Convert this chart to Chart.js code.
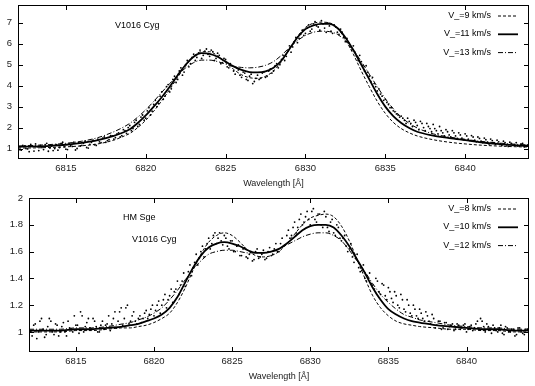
<!DOCTYPE html>
<html>
<head>
<meta charset="utf-8">
<script src="https://cdn.jsdelivr.net/npm/chart.js@4/dist/chart.umd.min.js"></script>
<style>
  html, body { margin: 0; padding: 0; background: #fff; }
  #wrap { position: relative; width: 535px; height: 386px; }
  canvas { position: absolute; left: 0; }
</style>
</head>
<body>
<div id="wrap">
  <canvas id="topChart" width="535" height="193" style="top:0"></canvas>
  <canvas id="bottomChart" width="535" height="193" style="top:193px"></canvas>
</div>
<script>
// wavelength grid of the model curves (Å)
const lam = [6812,6813,6814,6815,6816,6817,6818,
  6818.5,6819,6819.5,6820,6820.5,6821,6821.5,6822,6822.5,6823,6823.5,6824,6824.5,6825,6825.5,6826,6826.5,6827,6827.5,6828,
  6828.5,6829,6829.5,6830,6830.5,6831,6831.5,6832,6832.5,6833,6833.5,6834,6834.5,6835,6835.5,6836,6836.5,6837,
  6838,6839,6840,6841,6842,6843,6844];

// upper panel: V1016 Cyg models
const topV9  = [1.02,1.03,1.05,1.08,1.13,1.22,1.4, 1.55,1.72,2.0,2.35,2.78,3.28,3.82,4.4,4.95,5.4, 5.62,5.62,5.42,5.1,4.78,4.52,4.38,4.35,4.45,4.7, 5.15,5.75,6.35,6.78,6.98,7.03,7.0,6.75,6.2,5.5, 4.7,3.95,3.25,2.68,2.25,1.95,1.75,1.6, 1.42,1.3,1.22,1.16,1.12,1.09,1.07];
const topV11 = [1.08,1.1,1.13,1.18,1.27,1.4,1.6, 1.74,1.92,2.22,2.58,3.0,3.45,3.95,4.5,5.0,5.38, 5.55,5.52,5.38,5.15,4.92,4.75,4.65,4.63,4.68,4.85, 5.2,5.75,6.3,6.7,6.88,6.95,6.95,6.75,6.3,5.7, 5.0,4.3,3.6,3.0,2.55,2.22,1.98,1.8, 1.62,1.5,1.4,1.3,1.22,1.16,1.12];
const topV13 = [1.12,1.15,1.19,1.25,1.35,1.52,1.8, 1.98,2.2,2.5,2.85,3.25,3.68,4.1,4.5,4.85,5.1, 5.22,5.22,5.15,5.03,4.93,4.87,4.85,4.88,4.97,5.15, 5.45,5.82,6.15,6.4,6.55,6.6,6.58,6.45,6.15,5.7, 5.15,4.55,3.95,3.38,2.9,2.5,2.2,1.98, 1.7,1.55,1.44,1.34,1.27,1.21,1.17];

// lower panel models
const botV8  = [1.0,1.0,1.0,1.01,1.01,1.02,1.03, 1.03,1.04,1.05,1.07,1.1,1.14,1.22,1.33,1.46,1.58, 1.67,1.72,1.74,1.72,1.67,1.61,1.57,1.56,1.57,1.6, 1.66,1.73,1.8,1.85,1.87,1.88,1.86,1.79,1.68,1.54, 1.4,1.27,1.18,1.12,1.08,1.06,1.05,1.04, 1.03,1.02,1.02,1.01,1.01,1.0,1.0];
const botV10 = [1.01,1.01,1.01,1.02,1.02,1.03,1.04, 1.05,1.06,1.08,1.1,1.13,1.18,1.26,1.37,1.48,1.57, 1.63,1.66,1.67,1.66,1.64,1.61,1.59,1.59,1.6,1.62, 1.66,1.71,1.76,1.79,1.8,1.8,1.78,1.72,1.64,1.54, 1.44,1.33,1.24,1.17,1.13,1.1,1.08,1.07, 1.05,1.04,1.03,1.02,1.02,1.01,1.01];
const botV12 = [1.02,1.02,1.02,1.03,1.03,1.04,1.06, 1.07,1.09,1.11,1.14,1.18,1.24,1.31,1.39,1.47,1.53, 1.58,1.6,1.61,1.61,1.6,1.59,1.59,1.59,1.6,1.62, 1.65,1.68,1.71,1.73,1.74,1.74,1.72,1.68,1.61,1.53, 1.45,1.36,1.28,1.22,1.17,1.13,1.11,1.09, 1.07,1.05,1.04,1.03,1.03,1.02,1.02];

// observed spectra: set A every 0.2 Å from 6812.0, set B every 0.2 Å from 6812.1
const obsStart = 6812, obsStep = 0.2;
const topObsA = [1.05,0.92,1.12,0.98,1.2,0.88,1.08,1.15,0.95,1.25,
  1.02,0.9,1.18,1.05,1.3,0.97,1.22,1.1,0.93,1.28,
  1.15,1.35,1.02,1.3,1.18,1.45,1.28,1.55,1.38,1.62,
  1.45,1.7,1.55,1.9,1.72,2.1,1.95,2.35,2.15,2.6,
  2.45,2.95,2.78,3.3,3.15,3.7,3.5,4.05,3.85,4.45,
  4.3,4.85,4.65,5.2,5.05,5.5,5.35,5.7,5.45,5.75,
  5.4,5.62,5.3,5.45,5.1,5.25,4.85,4.95,4.55,4.75,
  4.4,4.6,4.25,4.55,4.2,4.5,4.35,4.65,4.45,4.8,
  4.7,5.05,5.0,5.45,5.4,5.9,5.85,6.3,6.25,6.65,
  6.5,6.9,6.7,7.05,6.8,7.1,6.75,7.0,6.6,6.9,
  6.55,6.7,6.3,6.25,5.85,5.9,5.4,5.45,4.95,4.95,
  4.45,4.4,3.95,3.85,3.5,3.35,3.1,2.95,2.75,2.6,
  2.55,2.35,2.45,2.2,2.35,2.1,2.3,2.0,2.2,1.95,
  2.15,1.85,2.05,1.75,1.9,1.65,1.85,1.6,1.75,1.5,
  1.7,1.45,1.62,1.4,1.55,1.35,1.5,1.3,1.45,1.28,
  1.4,1.22,1.35,1.18,1.3,1.15,1.28,1.12,1.25,1.15,
  1.2];
const topObsB = [0.95,1.15,1.0,0.85,1.1,1.22,0.9,1.05,1.18,0.87,
  1.12,1.0,0.92,1.25,1.08,0.95,1.15,1.3,1.0,1.12,
  1.25,1.05,1.2,1.4,1.15,1.32,1.5,1.3,1.42,1.6,
  1.52,1.75,1.62,1.85,2.0,1.85,2.25,2.05,2.5,2.35,
  2.8,2.6,3.1,3.0,3.5,3.35,3.95,3.7,4.3,4.15,
  4.7,4.5,5.0,4.9,5.35,5.2,5.55,5.3,5.65,5.5,
  5.7,5.2,5.55,5.05,5.3,4.9,5.05,4.7,4.85,4.5,
  4.65,4.3,4.45,4.1,4.35,4.3,4.6,4.4,4.7,4.6,
  4.95,4.85,5.25,5.2,5.65,5.6,6.1,6.05,6.45,6.4,
  6.75,6.6,6.95,6.85,6.65,6.95,6.55,6.85,6.5,6.8,
  6.45,6.55,6.1,6.05,5.7,5.6,5.2,5.15,4.7,4.65,
  4.2,4.1,3.75,3.6,3.3,3.2,2.95,2.8,2.65,2.5,
  2.45,2.2,2.3,2.05,2.25,1.9,2.2,1.85,2.05,1.8,
  1.95,1.7,1.85,1.6,1.8,1.55,1.75,1.48,1.65,1.42,
  1.6,1.38,1.55,1.32,1.48,1.28,1.42,1.22,1.38,1.2,
  1.32,1.15,1.28,1.1,1.25,1.18,1.12,1.22,1.08,1.16];
const botObsA = [1.02,0.97,1.06,1.0,1.1,0.96,1.04,1.08,0.98,1.05,
  1.0,1.07,0.97,1.03,1.0,1.05,0.99,1.12,1.04,1.1,
  1.02,1.08,1.0,1.05,1.02,1.06,1.01,1.1,1.03,1.15,
  1.05,1.18,1.06,1.12,1.08,1.1,1.07,1.14,1.1,1.17,
  1.12,1.2,1.14,1.24,1.18,1.27,1.22,1.32,1.28,1.38,
  1.34,1.45,1.42,1.52,1.5,1.6,1.56,1.66,1.62,1.72,
  1.66,1.74,1.65,1.7,1.62,1.68,1.6,1.65,1.57,1.63,
  1.55,1.6,1.54,1.62,1.56,1.61,1.55,1.63,1.58,1.66,
  1.6,1.7,1.65,1.76,1.72,1.82,1.78,1.88,1.82,1.9,
  1.8,1.92,1.82,1.88,1.78,1.86,1.75,1.84,1.72,1.78,
  1.68,1.72,1.6,1.66,1.52,1.58,1.45,1.5,1.38,1.44,
  1.35,1.4,1.3,1.36,1.27,1.33,1.25,1.3,1.2,1.28,
  1.17,1.24,1.14,1.2,1.12,1.17,1.1,1.15,1.08,1.13,
  1.03,1.08,1.02,1.07,1.02,1.05,1.01,1.06,1.02,1.05,
  1.0,1.04,1.01,1.06,1.02,1.08,1.0,1.04,0.99,1.03,
  1.0,1.05,0.98,1.03,1.0,1.02,0.98,1.03,0.99,1.02,
  1.0];
const botObsB = [1.0,1.05,0.95,1.08,1.02,0.98,1.1,1.0,1.06,0.97,
  1.04,1.0,1.08,1.02,1.12,1.05,1.15,1.0,1.07,1.03,
  1.1,1.04,1.0,1.08,1.05,1.12,1.06,1.15,1.08,1.18,
  1.1,1.2,1.08,1.15,1.06,1.12,1.1,1.16,1.13,1.2,
  1.16,1.23,1.2,1.28,1.24,1.32,1.3,1.38,1.35,1.44,
  1.4,1.5,1.48,1.58,1.55,1.64,1.62,1.7,1.66,1.74,
  1.7,1.68,1.72,1.64,1.68,1.6,1.64,1.57,1.62,1.56,
  1.58,1.53,1.6,1.55,1.58,1.54,1.6,1.57,1.62,1.6,
  1.66,1.64,1.72,1.7,1.78,1.74,1.84,1.8,1.86,1.84,
  1.9,1.84,1.88,1.8,1.9,1.78,1.82,1.74,1.8,1.7,
  1.7,1.64,1.62,1.56,1.55,1.48,1.46,1.4,1.4,1.36,
  1.32,1.38,1.28,1.35,1.24,1.3,1.22,1.27,1.18,1.24,
  1.15,1.2,1.12,1.17,1.1,1.14,1.08,1.12,1.06,1.1,
  1.05,1.08,1.03,1.07,1.04,1.06,1.02,1.05,1.03,1.06,
  1.02,1.05,1.03,1.08,1.1,1.04,1.06,1.02,1.05,1.01,
  1.03,0.99,1.04,1.0,1.02,0.97,1.03,1.0,0.98,1.02];

const xTicks = [6815, 6820, 6825, 6830, 6835, 6840];
const topYTicks = [1, 2, 3, 4, 5, 6, 7];
const botYTicks = [1, 1.2, 1.4, 1.6, 1.8, 2];
const topLabels = ['V_=9 km/s', 'V_=11 km/s', 'V_=13 km/s'];
const botLabels = ['V_=8 km/s', 'V_=10 km/s', 'V_=12 km/s'];

const FONT = '"Liberation Sans", Arial, sans-serif';
const lineStyles = [
  { dash: [3, 2], width: 1 },
  { dash: [], width: 1.8 },
  { dash: [5, 2, 1, 2], width: 1 }
];

// gnuplot-like frame: box border, inward mirrored ticks, key on the right, text labels
const gnuFrame = {
  id: 'gnuFrame',
  afterDraw(chart, args, opts) {
    const { ctx, chartArea: a, scales: { x, y } } = chart;
    ctx.save();
    ctx.strokeStyle = '#000';
    ctx.lineWidth = 1;
    ctx.strokeRect(a.left + 0.5, a.top + 0.5, a.right - a.left - 1, a.bottom - a.top - 1);
    ctx.beginPath();
    x.ticks.forEach(t => {
      const px = Math.round(x.getPixelForValue(t.value)) + 0.5;
      ctx.moveTo(px, a.bottom); ctx.lineTo(px, a.bottom - 5);
      ctx.moveTo(px, a.top); ctx.lineTo(px, a.top + 5);
    });
    y.ticks.forEach(t => {
      const py = Math.round(y.getPixelForValue(t.value)) + 0.5;
      ctx.moveTo(a.left, py); ctx.lineTo(a.left + 5, py);
      ctx.moveTo(a.right, py); ctx.lineTo(a.right - 5, py);
    });
    ctx.stroke();

    ctx.font = '9px ' + FONT;
    ctx.fillStyle = '#000';
    ctx.textBaseline = 'middle';
    // key
    const lines = chart.data.datasets.filter(d => d.inKey);
    lines.forEach((d, i) => {
      const yy = a.top + opts.keyTop + i * 18.3;
      ctx.textAlign = 'right';
      ctx.fillText(d.label, opts.keyTextRight, yy);
      ctx.beginPath();
      ctx.setLineDash(d.borderDash);
      ctx.lineWidth = d.borderWidth;
      ctx.moveTo(opts.keyTextRight + 7, yy + 0.5);
      ctx.lineTo(opts.keyTextRight + 27, yy + 0.5);
      ctx.stroke();
    });
    ctx.setLineDash([]);
    // free text labels
    ctx.textAlign = 'left';
    opts.texts.forEach(t => ctx.fillText(t.text, t.x, t.y));
    ctx.restore();
  }
};

function obsDataset(values, start) {
  return {
    label: 'data',
    data: values.map((v, i) => ({ x: start + i * obsStep, y: v })),
    showLine: false,
    pointRadius: 0.9,
    pointBorderWidth: 0,
    pointBackgroundColor: '#000',
    inKey: false
  };
}

function makeChart(id, obsA, obsB, curves, labels, yTicks, yMin, yMax, axisWidth, texts) {
  const datasets = [obsDataset(obsA, obsStart), obsDataset(obsB, obsStart + obsStep / 2)];
  curves.forEach((c, k) => {
    datasets.push({
      label: labels[k],
      data: lam.map((l, i) => ({ x: l, y: c[i] })),
      showLine: true,
      borderColor: '#000',
      borderWidth: lineStyles[k].width,
      borderDash: lineStyles[k].dash,
      pointRadius: 0,
      cubicInterpolationMode: 'monotone',
      inKey: true
    });
  });

  return new Chart(document.getElementById(id), {
    type: 'scatter',
    data: { datasets },
    plugins: [gnuFrame],
    options: {
      responsive: false,
      animation: false,
      devicePixelRatio: 1,
      layout: { padding: { left: 0, right: 6, top: 5, bottom: 0 } },
      plugins: {
        legend: { display: false },
        tooltip: { enabled: false },
        gnuFrame: { keyTop: 10.5, keyTextRight: 491, texts: texts }
      },
      scales: {
        x: {
          type: 'linear',
          min: 6812,
          max: 6844,
          afterBuildTicks: s => { s.ticks = xTicks.map(v => ({ value: v })); },
          afterFit: s => { s.height = 34; s.paddingLeft = 0; s.paddingRight = 0; },
          grid: { display: false, drawTicks: false },
          border: { display: false },
          ticks: { padding: 4, color: '#222', font: { family: FONT, size: 9.5 }, callback: v => String(v), maxRotation: 0 },
          title: { display: true, text: 'Wavelength [Å]', color: '#222', font: { family: FONT, size: 9 }, padding: { top: 0, bottom: 4 } }
        },
        y: {
          min: yMin,
          max: yMax,
          afterBuildTicks: s => { s.ticks = yTicks.map(v => ({ value: v })); },
          afterFit: s => { s.width = axisWidth; s.paddingTop = 0; s.paddingBottom = 0; },
          grid: { display: false, drawTicks: false },
          border: { display: false },
          ticks: { padding: 6, color: '#222', font: { family: FONT, size: 9.5 }, callback: v => String(v) }
        }
      }
    }
  });
}

makeChart('topChart', topObsA, topObsB, [topV9, topV11, topV13], topLabels, topYTicks, 0.5, 7.85, 18,
  [{ text: 'V1016 Cyg', x: 115, y: 26 }]);
makeChart('bottomChart', botObsA, botObsB, [botV8, botV10, botV12], botLabels, botYTicks, 0.85, 2.0, 29,
  [{ text: 'HM Sge', x: 123, y: 24.5 }, { text: 'V1016 Cyg', x: 132, y: 46.5 }]);
</script>
</body>
</html>
